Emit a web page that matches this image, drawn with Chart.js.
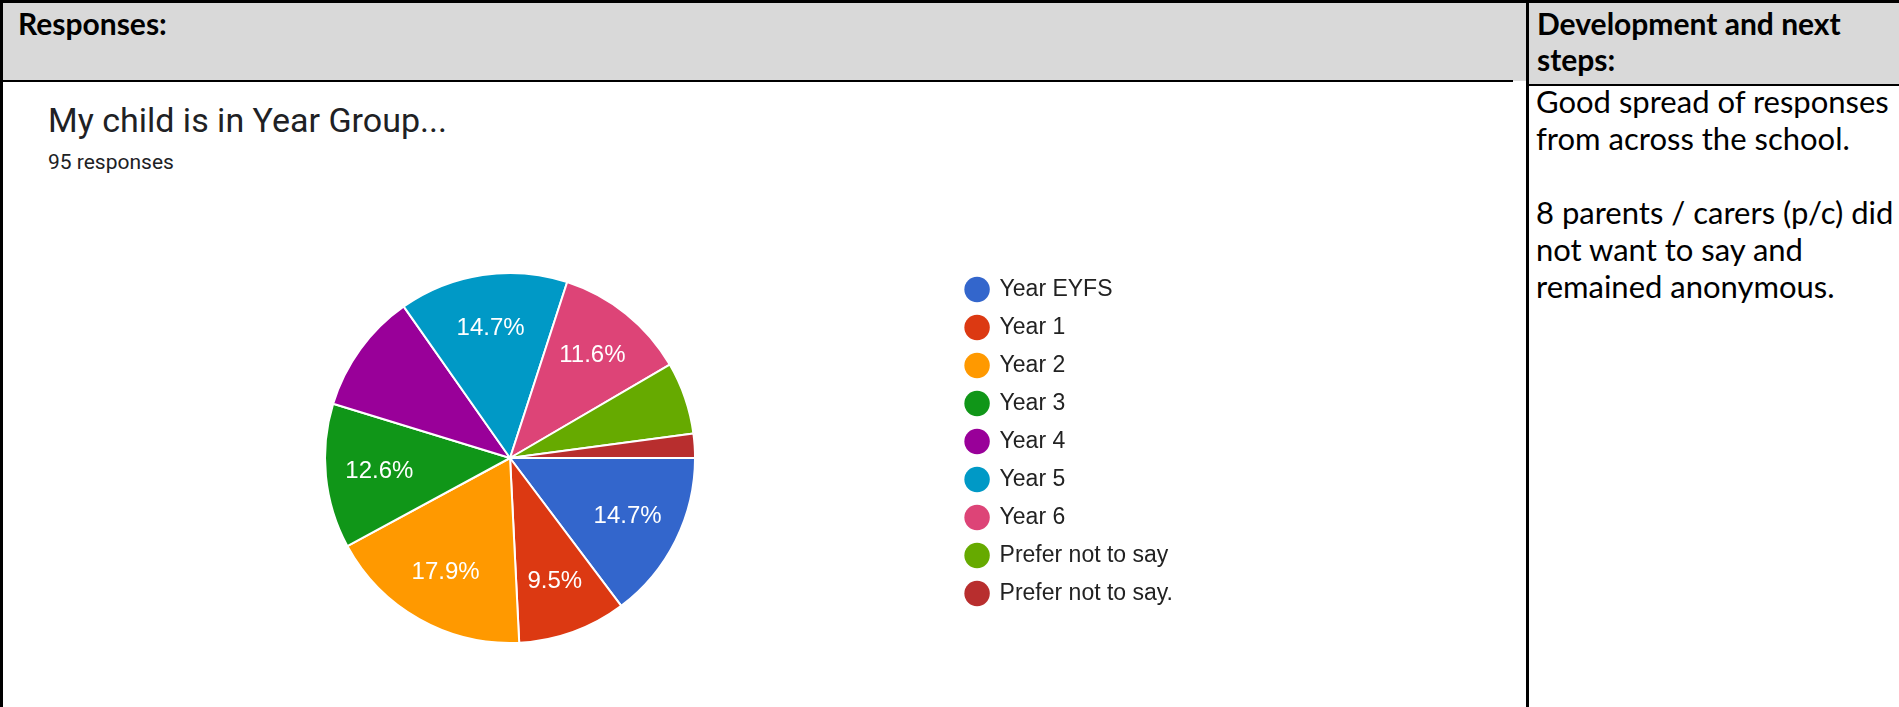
<!DOCTYPE html>
<html>
<head>
<meta charset="utf-8">
<title>Responses</title>
<script src="https://cdn.jsdelivr.net/npm/chart.js@4"></script>
<style>
  html, body { margin: 0; padding: 0; background: #fff; }
  body { position: relative; width: 1899px; height: 707px; overflow: hidden; }
  .rule { position: absolute; background: #000; }
  .head { position: absolute; background: #d9d9d9; }
  .cell-text { position: absolute; font-family: Lato, "Open Sans", sans-serif; color: #000; white-space: pre; }
  .bold { font-weight: 700; font-size: 30px; line-height: 36px; }
  .body { font-size: 31px; line-height: 37px; }
  .form-title { position: absolute; font-family: Roboto, sans-serif; color: #202124; white-space: nowrap; line-height: 1; }
  #pie { position: absolute; left: 0; top: 82px; }
</style>
</head>
<body>
  <!-- table: grey header row, two columns -->
  <div class="head" style="left:3px; top:3px; width:1896px; height:78px;"></div>
  <div class="head" style="left:1528px; top:81px; width:371px; height:3px;"></div>
  <div class="rule" style="left:0; top:0; width:1899px; height:3px;"></div>
  <div class="rule" style="left:0; top:0; width:3px; height:707px;"></div>
  <div class="rule" style="left:0; top:80px; width:1513px; height:2px;"></div>
  <div class="rule" style="left:1528px; top:84px; width:371px; height:2px;"></div>
  <div class="rule" style="left:1526px; top:0; width:3px; height:707px;"></div>

  <div class="cell-text bold" style="left:18px; top:5px;">Responses:</div>
  <div class="cell-text bold" style="left:1537px; top:5px;">Development and next
steps:</div>

  <div class="cell-text body" style="left:1536px; top:83px;">Good spread of responses
from across the school.

8 parents / carers (p/c) did
not want to say and
remained anonymous.</div>

  <div class="form-title" style="left:48px; top:103px; font-size:34px;">My child is in Year Group...</div>
  <div class="form-title" style="left:48px; top:152px; font-size:21px;">95 responses</div>

  <canvas id="pie" width="1400" height="625"></canvas>

<script>
// answers to "My child is in Year Group..." (95 responses)
const yearGroups = ['Year EYFS', 'Year 1', 'Year 2', 'Year 3', 'Year 4', 'Year 5', 'Year 6', 'Prefer not to say', 'Prefer not to say.'];
const responseCounts = [14, 9, 17, 12, 10, 14, 11, 6, 2];
const sliceColors = ['#3366cc', '#dc3912', '#ff9900', '#109618', '#990099', '#0099c6', '#dd4477', '#66aa00', '#b82e2e'];
// slices too narrow to carry a percentage
const unlabelledGroups = ['Year 4', 'Prefer not to say', 'Prefer not to say.'];

const pctLabels = {
  id: 'pctLabels',
  afterDatasetsDraw(chart) {
    const { ctx } = chart;
    const meta = chart.getDatasetMeta(0);
    const values = chart.data.datasets[0].data;
    const total = values.reduce((a, b) => a + b, 0);
    ctx.save();
    ctx.fillStyle = '#fff';
    ctx.font = '24px "Liberation Sans", Arial, sans-serif';
    ctx.textAlign = 'center';
    ctx.textBaseline = 'middle';
    meta.data.forEach((arc, i) => {
      if (unlabelledGroups.includes(chart.data.labels[i])) return;
      const mid = (arc.startAngle + arc.endAngle) / 2;
      const r = arc.outerRadius * 0.71;
      const txt = (values[i] / total * 100).toFixed(1) + '%';
      ctx.fillText(txt, arc.x + Math.cos(mid) * r, arc.y + Math.sin(mid) * r);
    });
    ctx.restore();
  }
};

new Chart(document.getElementById('pie').getContext('2d'), {
  type: 'pie',
  data: {
    labels: yearGroups,
    datasets: [{
      data: responseCounts,
      backgroundColor: sliceColors,
      borderColor: '#fff',
      borderWidth: 2,
      radius: 185,
    }]
  },
  options: {
    responsive: false,
    animation: false,
    devicePixelRatio: 1,
    rotation: 90,
    layout: { padding: { left: 69, right: 217, top: 181, bottom: 54 } },
    plugins: {
      tooltip: { enabled: false },
      legend: {
        position: 'right',
        align: 'start',
        maxWidth: 240,
        labels: {
          usePointStyle: true,
          pointStyle: 'circle',
          boxWidth: 22,
          boxHeight: 18,
          padding: 15,
          color: '#222',
          font: { family: '"Liberation Sans", Arial, sans-serif', size: 23 },
          generateLabels(chart) {
            return Chart.overrides.pie.plugins.legend.labels.generateLabels(chart)
              .map(item => ({ ...item, lineWidth: 0 }));
          }
        }
      }
    }
  },
  plugins: [pctLabels]
});
</script>
</body>
</html>
